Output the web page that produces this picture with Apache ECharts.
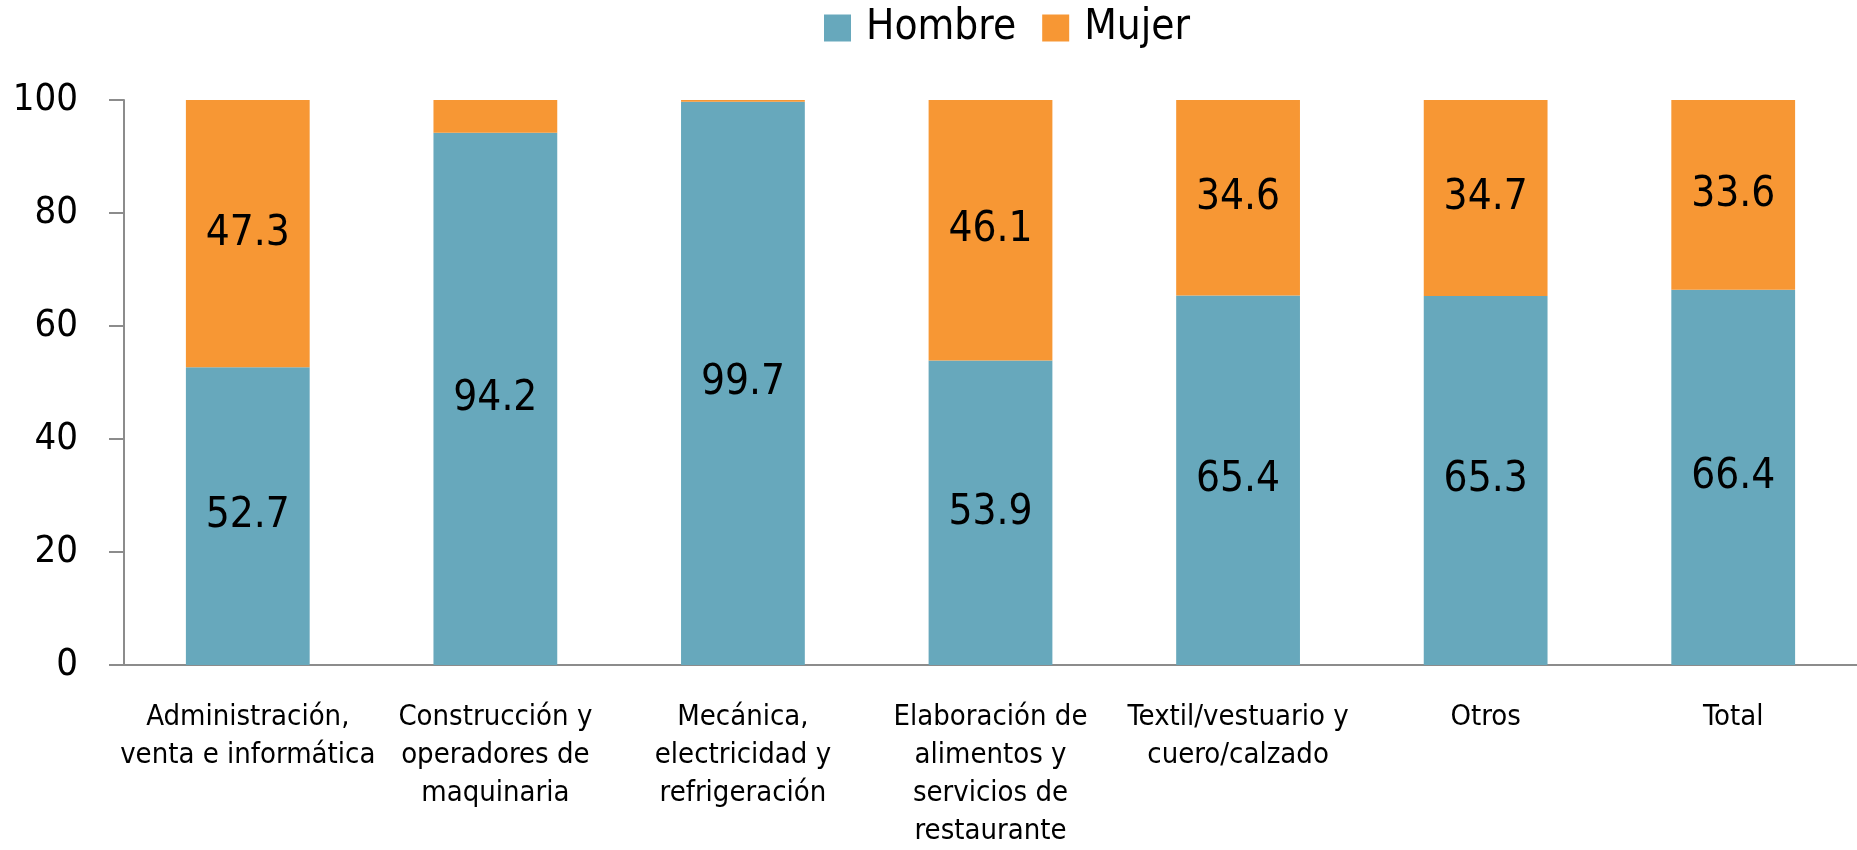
<!DOCTYPE html>
<html>
<head>
<meta charset="utf-8">
<script src="https://cdn.jsdelivr.net/npm/echarts@6/dist/echarts.min.js"></script>
<style>
    html, body { margin: 0; padding: 0; background: #fff; }
    #chart { width: 1857px; height: 850px; }
</style>
</head>
<body>
<div id="chart"></div>
<script>
// categories and values
var categories = [
    'Administración,\nventa e informática',
    'Construcción y\noperadores de\nmaquinaria',
    'Mecánica,\nelectricidad y\nrefrigeración',
    'Elaboración de\nalimentos y\nservicios de\nrestaurante',
    'Textil/vestuario y\ncuero/calzado',
    'Otros',
    'Total'
];
var hombre = [52.7, 94.2, 99.7, 53.9, 65.4, 65.3, 66.4];
var mujer = [47.3, 5.8, 0.3, 46.1, 34.6, 34.7, 33.6];
var yTicks = [0, 20, 40, 60, 80, 100];

var font = '"DejaVu Sans Condensed", "Liberation Sans Narrow", sans-serif';
var chart = echarts.init(document.getElementById('chart'));

// small segments carry no label in the original
function labelFor(minShown) {
    return {
        show: true,
        position: 'inside',
        color: '#000',
        fontFamily: font,
        fontSize: 42,
        formatter: function (p) {
            return p.value >= minShown ? p.value.toFixed(1) : '';
        }
    };
}

var option = {
    animation: false,
    textStyle: {fontFamily: font},
    legend: {
        left: 819,
        top: 2,
        itemWidth: 27,
        itemHeight: 27,
        itemGap: 26,
        icon: 'rect',
        textStyle: {
            fontFamily: font,
            fontSize: 42,
            color: '#000',
            padding: [0, 0, 0, 10]
        },
        data: ['Hombre', 'Mujer']
    },
    grid: {
        left: 124,
        right: -18,
        top: 100,
        bottom: 170,
        containLabel: false
    },
    xAxis: {
        type: 'category',
        data: categories,
        axisLine: {lineStyle: {color: '#8c8c8c', width: 2}},
        axisTick: {length: 10, lineStyle: {color: '#8c8c8c', width: 2}},
        axisLabel: {
            color: '#000',
            fontFamily: font,
            fontSize: 29,
            lineHeight: 38,
            margin: 33,
            interval: 0
        }
    },
    yAxis: {
        type: 'value',
        min: 0,
        max: 100,
        interval: 20,
        splitLine: {show: false},
        axisLine: {show: true, lineStyle: {color: '#8c8c8c', width: 2}},
        axisTick: {show: true, length: 15, lineStyle: {color: '#8c8c8c', width: 2}},
        axisLabel: {
            color: '#000',
            fontFamily: font,
            fontSize: 38,
            margin: 46,
            formatter: function (v) {
                return yTicks.indexOf(v) >= 0 ? String(v) : '';
            }
        }
    },
    series: [
        {
            name: 'Hombre',
            type: 'bar',
            stack: 'total',
            barWidth: '50%',
            itemStyle: {color: '#67a8bc'},
            label: labelFor(0),
            data: hombre
        },
        {
            name: 'Mujer',
            type: 'bar',
            stack: 'total',
            barWidth: '50%',
            itemStyle: {color: '#f79734'},
            label: labelFor(10),
            data: mujer
        }
    ]
};
chart.setOption(option);
</script>
</body>
</html>
